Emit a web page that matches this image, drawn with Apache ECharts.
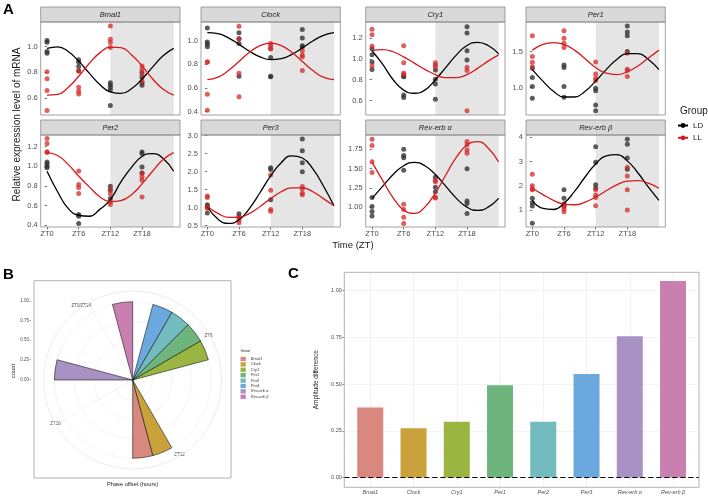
<!DOCTYPE html>
<html>
<head>
<meta charset="utf-8">
<script src="https://cdn.jsdelivr.net/npm/echarts@6/dist/echarts.min.js"></script>
<style>
html, body { margin: 0; padding: 0; background: #fff; }
#chart { width: 708px; height: 498px; }
</style>
</head>
<body>
<div id="chart"></div>
<script>
var genes = ['Bmal1', 'Clock', 'Cry1', 'Per1', 'Per2', 'Per3', 'Rev-erb α', 'Rev-erb β'];
var geneColors = ['#d98880', '#c9a23c', '#9bb543', '#6db57c', '#72bbbe', '#6aa8de', '#a892c3', '#c980b0'];
var sampleTimes = [0, 6, 12, 18];
var fitTimes = [0, 2, 4, 6, 8, 10, 12, 14, 16, 18, 20, 22, 24];

// A: measured points, one list per sampling time (ZT0, ZT6, ZT12, ZT18)
var bmal1LD = [[1.046, 1.034, 0.961, 0.948], [0.897, 0.879, 0.845, 0.81], [0.719, 0.703, 0.684, 0.664, 0.543], [0.80, 0.76, 0.72, 0.70]];
var bmal1LL = [[0.805, 0.75, 0.66, 0.505], [0.81, 0.684, 0.653, 0.632], [1.16, 1.057, 1.031, 0.992], [0.85, 0.82, 0.78, 0.73]];
var clockLD = [[1.11, 0.99, 0.97, 0.95], [1.068, 1.017, 0.977, 0.70], [0.859, 0.70, 0.695], [1.096, 1.025, 0.958, 0.95]];
var clockLL = [[0.82, 0.82, 0.546, 0.41], [1.124, 1.017, 0.724, 0.524], [0.977, 0.958, 0.935, 0.93], [0.915, 0.879, 0.865, 0.749]];
var cry1LD = [[1.10, 1.04, 0.97, 0.90], [0.836, 0.828, 0.654, 0.628], [0.894, 0.806, 0.758, 0.613], [1.31, 1.25, 1.08, 0.99]];
var cry1LL = [[1.286, 1.235, 1.126, 0.933], [1.128, 0.965, 0.866, 0.85], [0.965, 0.942, 0.926], [0.92, 0.89, 0.50]];
var per1LD = [[1.27, 1.14, 1.014, 0.852], [1.315, 1.28, 1.014, 0.866], [0.99, 0.958, 0.76, 0.68], [1.856, 1.77, 1.72, 1.50]];
var per1LL = [[1.72, 1.43, 1.35, 1.29], [1.79, 1.685, 1.616, 1.556], [1.356, 1.19, 1.13, 1.10], [1.477, 1.255, 1.236, 1.153]];
var per2LD = [[1.044, 1.027, 1.0, 0.986], [0.507, 0.49, 0.415], [0.797, 0.756, 0.67], [1.146, 1.13, 0.993, 0.932]];
var per2LL = [[1.285, 1.234, 1.149, 1.14], [0.952, 0.815, 0.783, 0.722], [0.766, 0.72, 0.637, 0.61], [0.93, 0.89, 0.857, 0.687]];
var per3LD = [[1.08, 1.03, 0.85], [0.83, 0.75], [2.11, 2.06, 1.22], [2.91, 2.58, 2.25, 2.0]];
var per3LL = [[1.32, 1.28, 1.0, 0.98], [0.74, 0.65, 0.58], [1.91, 1.48, 0.95, 0.90], [1.59, 1.52, 1.40, 1.36]];
var revaLD = [[1.125, 1.01, 0.944, 0.888], [1.75, 1.67, 1.64, 1.48], [1.39, 1.26, 1.20], [1.50, 1.08, 1.05, 0.92]];
var revaLL = [[1.88, 1.80, 1.59, 1.45], [1.04, 0.97, 0.87, 0.79], [1.35, 1.33, 1.13, 1.12], [1.85, 1.81, 1.74, 1.70]];
var revbLD = [[1.48, 1.30, 1.17, 0.45], [1.83, 1.48, 1.25, 1.17], [3.61, 2.97, 2.04, 1.90], [3.92, 3.71, 3.14, 2.68]];
var revbLL = [[2.47, 2.0, 1.87, 1.83], [1.21, 1.15, 1.04, 0.93], [1.83, 1.62, 1.52, 1.18], [2.76, 2.40, 1.83, 1.0]];

// A: fitted curves read at fitTimes
var bmal1LDFit = [0.986, 0.998, 0.962, 0.887, 0.794, 0.706, 0.649, 0.637, 0.673, 0.748, 0.841, 0.929, 0.986];
var bmal1LLFit = [0.624, 0.629, 0.683, 0.770, 0.869, 0.951, 0.996, 0.991, 0.937, 0.850, 0.751, 0.669, 0.624];
var clockLDFit = [1.069, 1.061, 1.025, 0.970, 0.911, 0.864, 0.841, 0.849, 0.885, 0.940, 0.999, 1.046, 1.069];
var clockLLFit = [0.670, 0.691, 0.748, 0.825, 0.903, 0.959, 0.980, 0.959, 0.903, 0.825, 0.748, 0.691, 0.670];
var cry1LDFit = [1.08, 0.95, 0.80, 0.70, 0.67, 0.70, 0.80, 0.92, 1.04, 1.13, 1.16, 1.13, 1.05];
var cry1LLFit = [1.08, 1.09, 1.07, 1.02, 0.96, 0.90, 0.85, 0.82, 0.82, 0.85, 0.91, 0.98, 1.04];
var per1LDFit = [1.25, 1.09, 0.95, 0.87, 0.87, 0.95, 1.09, 1.25, 1.39, 1.47, 1.47, 1.39, 1.25];
var per1LLFit = [1.52, 1.60, 1.625, 1.60, 1.52, 1.40, 1.28, 1.20, 1.18, 1.22, 1.30, 1.41, 1.52];
var per2LDFit = [0.95, 0.74, 0.57, 0.50, 0.49, 0.56, 0.66, 0.84, 0.99, 1.10, 1.13, 1.08, 0.95];
var per2LLFit = [1.14, 1.11, 1.02, 0.90, 0.79, 0.69, 0.64, 0.65, 0.71, 0.82, 0.95, 1.07, 1.14];
var per3LDFit = [1.03, 0.68, 0.56, 0.66, 0.98, 1.42, 1.88, 2.25, 2.44, 2.38, 2.08, 1.60, 1.05];
var per3LLFit = [1.03, 0.84, 0.73, 0.73, 0.84, 1.03, 1.25, 1.44, 1.55, 1.55, 1.44, 1.25, 1.05];
var revaLDFit = [1.115, 1.27, 1.425, 1.538, 1.58, 1.538, 1.425, 1.27, 1.115, 1.002, 0.96, 1.002, 1.115];
var revaLLFit = [1.585, 1.349, 1.122, 0.965, 0.921, 1.002, 1.185, 1.421, 1.648, 1.805, 1.849, 1.768, 1.585];
var revbLDFit = [1.40, 1.066, 1.02, 1.276, 1.766, 2.36, 2.896, 3.234, 3.28, 3.024, 2.534, 1.94, 1.40];
var revbLLFit = [1.896, 1.636, 1.397, 1.243, 1.216, 1.323, 1.534, 1.794, 2.033, 2.187, 2.214, 2.107, 1.896];

// A: y ranges and tick labels (free scales)
var yRanges = [[0.47, 1.19], [0.37, 1.16], [0.46, 1.357], [0.62, 1.91], [0.38, 1.32], [0.46, 3.02], [0.745, 1.935], [0.3, 4.09]];
var yTicks = [[0.6, 0.8, 1.0], [0.4, 0.6, 0.8, 1.0], [0.6, 0.8, 1.0, 1.2], [1.0, 1.5], [0.4, 0.6, 0.8, 1.0, 1.2],
  [0.5, 1.0, 1.5, 2.0, 2.5, 3.0], [1.0, 1.25, 1.5, 1.75], [1, 2, 3, 4]];
var yDecimals = [1, 1, 1, 1, 1, 1, 2, 0];

// B: phase bin (hour) and count per gene
var phaseBin = [13, 12, 6, 5, 4, 3, 20, 1];
var phaseCount = [1, 1, 1, 1, 1, 1, 1, 1];
var countTicks = [0, 0.25, 0.5, 0.75, 1];

// C: amplitude difference per gene
var ampDiff = [0.375, 0.264, 0.298, 0.493, 0.298, 0.554, 0.755, 1.05];
var ampTicks = [0, 0.25, 0.5, 0.75, 1];
var ampMinor = [0.125, 0.375, 0.625, 0.875];

var FONT = '"Liberation Sans", Arial, sans-serif';
var ldPts = [bmal1LD, clockLD, cry1LD, per1LD, per2LD, per3LD, revaLD, revbLD];
var llPts = [bmal1LL, clockLL, cry1LL, per1LL, per2LL, per3LL, revaLL, revbLL];
var ldFits = [bmal1LDFit, clockLDFit, cry1LDFit, per1LDFit, per2LDFit, per3LDFit, revaLDFit, revbLDFit];
var llFits = [bmal1LLFit, clockLLFit, cry1LLFit, per1LLFit, per2LLFit, per3LLFit, revaLLFit, revbLLFit];

function toPoints(groups) {
  var out = [];
  groups.forEach(function(vals, i) {
    vals.forEach(function(v) { out.push([sampleTimes[i], v]); });
  });
  return out;
}
function toCurve(vals) {
  return fitTimes.map(function(t, i) { return [t, vals[i]]; });
}

var colLeft = [40.7, 201, 365.7, 526], colW = 139.3;
var rowTop = [22, 135], rowH = [93, 92];
var grids = [], xAxes = [], yAxes = [], series = [], graphics = [];

genes.forEach(function(g, k) {
  var r = Math.floor(k / 4), c = k % 4;
  var left = colLeft[c], top = rowTop[r];
  grids.push({ left: left, top: top, width: colW, height: rowH[r] });
  xAxes.push({
    gridIndex: k, type: 'value', min: -1.2, max: 25.2,
    axisLine: { show: false }, splitLine: { show: false },
    axisTick: { show: r === 1, customValues: sampleTimes, length: 2.5, lineStyle: { color: '#555', width: 0.8 } },
    axisLabel: { show: r === 1, customValues: sampleTimes, margin: 3, fontSize: 7.5, color: '#4d4d4d', fontFamily: FONT,
      formatter: function(v) { return 'ZT' + v; } }
  });
  yAxes.push({
    gridIndex: k, type: 'value', min: yRanges[k][0], max: yRanges[k][1],
    axisLine: { show: false }, splitLine: { show: false },
    axisTick: { show: true, customValues: yTicks[k], length: 2.5, lineStyle: { color: '#555', width: 0.8 } },
    axisLabel: { customValues: yTicks[k], margin: 3, fontSize: 7.5, color: '#4d4d4d', fontFamily: FONT,
      formatter: function(v) { return v.toFixed(yDecimals[k]); } }
  });
  // dark phase shading
  series.push({
    type: 'line', xAxisIndex: k, yAxisIndex: k, data: [], silent: true, z: 1,
    markArea: { silent: true, z: 1, itemStyle: { color: '#e5e5e5' }, data: [[{ xAxis: 12 }, { xAxis: 24 }]] }
  });
  series.push({
    name: 'LD', type: 'line', xAxisIndex: k, yAxisIndex: k, data: toCurve(ldFits[k]), smooth: true,
    showSymbol: false, symbol: 'circle', symbolSize: 5, z: 4,
    itemStyle: { color: '#000' }, lineStyle: { color: '#000', width: 1.3 }
  });
  series.push({
    name: 'LL', type: 'line', xAxisIndex: k, yAxisIndex: k, data: toCurve(llFits[k]), smooth: true,
    showSymbol: false, symbol: 'circle', symbolSize: 5, z: 4,
    itemStyle: { color: '#d7191c' }, lineStyle: { color: '#d7191c', width: 1.3 }
  });
  series.push({
    name: 'LD points', type: 'scatter', xAxisIndex: k, yAxisIndex: k, data: toPoints(ldPts[k]),
    symbolSize: 5, z: 3, itemStyle: { color: '#333', opacity: 0.8 }
  });
  series.push({
    name: 'LL points', type: 'scatter', xAxisIndex: k, yAxisIndex: k, data: toPoints(llPts[k]),
    symbolSize: 5, z: 3, itemStyle: { color: '#d42a2a', opacity: 0.75 }
  });
  // strip + border
  graphics.push({ type: 'rect', z: 100, shape: { x: left, y: top - 15, width: colW, height: 15 },
    style: { fill: '#d9d9d9', stroke: '#8c8c8c', lineWidth: 0.8 } });
  graphics.push({ type: 'text', z: 101, x: left + colW / 2, y: top - 7.3,
    style: { text: g, align: 'center', verticalAlign: 'middle', font: 'italic 7.5px ' + FONT, fill: '#1a1a1a' } });
  graphics.push({ type: 'rect', z: 100, shape: { x: left, y: top, width: colW, height: rowH[r] },
    style: { fill: 'none', stroke: '#8c8c8c', lineWidth: 0.8 } });
});

// B: axis grid for the count labels (index 8)
grids.push({ left: 31, top: 301, width: 197, height: 140 });
xAxes.push({ gridIndex: 8, type: 'value', min: 0, max: 1, show: false });
yAxes.push({
  gridIndex: 8, type: 'value', min: -0.788, max: 1,
  name: 'count', nameLocation: 'middle', nameGap: 10,
  nameTextStyle: { fontSize: 5.7, color: '#1a1a1a', fontFamily: FONT },
  axisLine: { show: false }, splitLine: { show: false },
  axisTick: { show: true, customValues: countTicks, length: 1.5, lineStyle: { color: '#555', width: 0.5 } },
  axisLabel: { customValues: countTicks, margin: 2, fontSize: 4.5, color: '#4d4d4d', fontFamily: FONT,
    formatter: function(v) { return v.toFixed(2); } }
});

// C: amplitude grid (index 9)
grids.push({ left: 344.3, top: 272.3, width: 354.7, height: 215 });
xAxes.push({
  gridIndex: 9, type: 'value', min: 0.4, max: 8.6,
  axisLine: { show: false }, splitLine: { show: false },
  axisTick: { show: true, customValues: [1, 2, 3, 4, 5, 6, 7, 8], length: 2, lineStyle: { color: '#555', width: 0.6 } },
  axisLabel: { customValues: [1, 2, 3, 4, 5, 6, 7, 8], margin: 2.5, fontSize: 5.5, fontStyle: 'italic', color: '#4d4d4d', fontFamily: FONT,
    formatter: function(v) { return genes[v - 1]; } }
});
yAxes.push({
  gridIndex: 9, type: 'value', min: -0.052, max: 1.097,
  name: 'Amplitude difference', nameLocation: 'middle', nameGap: 14,
  nameTextStyle: { fontSize: 6.5, color: '#1a1a1a', fontFamily: FONT },
  axisLine: { show: false }, splitLine: { show: false },
  axisTick: { show: true, customValues: ampTicks, length: 2, lineStyle: { color: '#555', width: 0.6 } },
  axisLabel: { customValues: ampTicks, margin: 2.5, fontSize: 5.5, color: '#4d4d4d', fontFamily: FONT,
    formatter: function(v) { return v.toFixed(2); } }
});

var gridLines = [];
[1, 2, 3, 4, 5, 6, 7, 8].forEach(function(x) { gridLines.push({ xAxis: x, lineStyle: { color: '#ebebeb', width: 0.6, type: 'solid' } }); });
ampTicks.forEach(function(y) { gridLines.push({ yAxis: y, lineStyle: { color: '#ebebeb', width: 0.6, type: 'solid' } }); });
ampMinor.forEach(function(y) { gridLines.push({ yAxis: y, lineStyle: { color: '#f4f4f4', width: 0.4, type: 'solid' } }); });
series.push({
  type: 'line', xAxisIndex: 9, yAxisIndex: 9, data: [], silent: true, z: 1,
  markLine: { silent: true, z: 1, symbol: 'none', label: { show: false }, data: gridLines }
});
series.push({
  name: 'Amplitude', type: 'bar', xAxisIndex: 9, yAxisIndex: 9, barWidth: 26, z: 2,
  data: ampDiff.map(function(v, i) { return { value: [i + 1, v], itemStyle: { color: geneColors[i] } }; })
});
series.push({
  type: 'line', xAxisIndex: 9, yAxisIndex: 9, data: [], silent: true, z: 5,
  markLine: { silent: true, z: 5, symbol: 'none', label: { show: false },
    data: [{ yAxis: 0, lineStyle: { color: '#000', width: 1.2, type: [5, 3] } }] }
});

// B: polar bars
var hourBins = [];
for (var h = 0; h < 24; h++) hourBins.push(String(h));
genes.forEach(function(g, i) {
  series.push({
    name: g, type: 'bar', coordinateSystem: 'polar', polarIndex: 0, stack: 'phase',
    barCategoryGap: '0%', z: 3,
    itemStyle: { color: geneColors[i], borderColor: '#1a1a1a', borderWidth: 0.6 },
    data: hourBins.map(function(b, j) { return j === phaseBin[i] ? phaseCount[i] : '-'; })
  });
});

graphics.push(
  { type: 'text', x: 3, y: 2, style: { text: 'A', font: 'bold 15px ' + FONT, fill: '#000' } },
  { type: 'text', x: 3, y: 267, style: { text: 'B', font: 'bold 15px ' + FONT, fill: '#000' } },
  { type: 'text', x: 288, y: 266, style: { text: 'C', font: 'bold 15px ' + FONT, fill: '#000' } },
  { type: 'text', x: 17, y: 124.5, rotation: Math.PI / 2,
    style: { text: 'Relative expression level of mRNA', align: 'center', verticalAlign: 'middle', font: '10px ' + FONT, fill: '#1a1a1a' } },
  { type: 'text', x: 352.9, y: 245,
    style: { text: 'Time (ZT)', align: 'center', verticalAlign: 'middle', font: '9.5px ' + FONT, fill: '#1a1a1a' } },
  { type: 'text', x: 680, y: 111,
    style: { text: 'Group', verticalAlign: 'middle', font: '10px ' + FONT, fill: '#1a1a1a' } },
  { type: 'text', x: 240.5, y: 350.5,
    style: { text: 'Gene', verticalAlign: 'middle', font: '4px ' + FONT, fill: '#1a1a1a' } },
  { type: 'text', x: 132.5, y: 484.7,
    style: { text: 'Phase offset (hours)', align: 'center', verticalAlign: 'middle', font: '5.7px ' + FONT, fill: '#1a1a1a' } },
  { type: 'rect', z: 100, shape: { x: 34, y: 280.7, width: 197, height: 197.3 },
    style: { fill: 'none', stroke: '#a0a0a0', lineWidth: 0.8 } },
  { type: 'rect', z: 100, shape: { x: 344.3, y: 272.3, width: 354.7, height: 215 },
    style: { fill: 'none', stroke: '#a0a0a0', lineWidth: 0.8 } }
);

var option = {
  animation: false,
  backgroundColor: '#fff',
  textStyle: { fontFamily: FONT },
  grid: grids,
  xAxis: xAxes,
  yAxis: yAxes,
  polar: [
    { center: [132.7, 380], radius: 89 },
    { center: [132.7, 380], radius: 89 }
  ],
  angleAxis: [
    { polarIndex: 0, type: 'category', data: hourBins, startAngle: 120, boundaryGap: true, show: false },
    { polarIndex: 1, type: 'value', min: 0, max: 24, interval: 6, startAngle: 120,
      axisLine: { show: true, lineStyle: { color: '#ebebeb', width: 0.6 } },
      axisTick: { show: false },
      splitLine: { show: true, lineStyle: { color: '#ebebeb', width: 0.6 } },
      minorTick: { show: false, splitNumber: 2 },
      minorSplitLine: { show: true, lineStyle: { color: '#f4f4f4', width: 0.4 } },
      axisLabel: { margin: -6, fontSize: 4.5, color: '#4d4d4d', fontFamily: FONT,
        formatter: function(v) { return v === 0 ? 'ZT0/ZT24' : (v === 24 ? '' : 'ZT' + v); } } }
  ],
  radiusAxis: [
    { polarIndex: 0, type: 'value', min: 0, max: 1.137, show: false },
    { polarIndex: 1, type: 'value', min: 0, max: 1.137, interval: 0.25,
      axisLine: { show: false }, axisTick: { show: false }, axisLabel: { show: false },
      splitLine: { show: true, lineStyle: { color: '#ebebeb', width: 0.6 } } }
  ],
  legend: [
    { data: ['LD', 'LL'], orient: 'vertical', left: 677, top: 121.5, padding: 0, itemWidth: 10, itemHeight: 6, itemGap: 4.3,
      selectedMode: false, textStyle: { fontSize: 8, color: '#1a1a1a', fontFamily: FONT } },
    { data: genes, orient: 'vertical', left: 240.5, top: 356.8, padding: 0, itemWidth: 5.3, itemHeight: 4.3, itemGap: 1.1,
      icon: 'rect', selectedMode: false, itemStyle: { borderWidth: 0 },
      textStyle: { fontSize: 4, fontStyle: 'italic', color: '#333', fontFamily: FONT } }
  ],
  series: series,
  graphic: graphics
};

var chart = echarts.init(document.getElementById('chart'), null, { renderer: 'canvas' });
chart.setOption(option);
</script>
</body>
</html>
